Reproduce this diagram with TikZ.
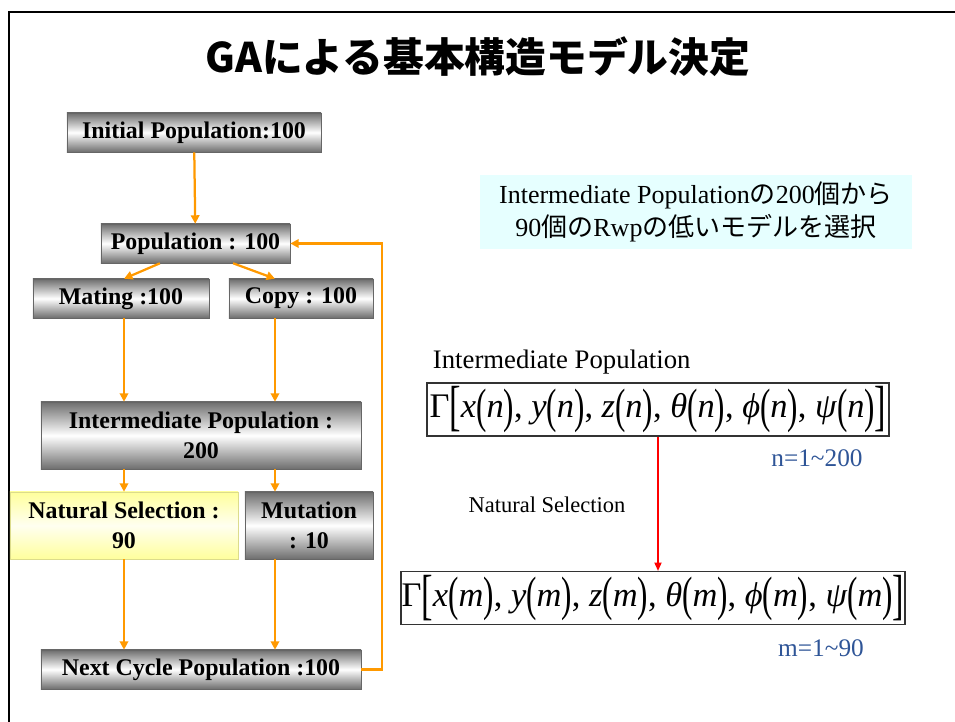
\documentclass[tikz,border=0pt]{standalone}
\usepackage{graphicx}
\usepackage{fontspec}
\setmainfont{Liberation Serif}
\newfontfamily\cjk{Noto Sans CJK JP}
\usepackage{xcolor}
\usepackage{tikz}
\usetikzlibrary{arrows.meta,positioning}

\definecolor{flowline}{HTML}{FF9900}
\definecolor{boxgray}{HTML}{6E6E6E}
\definecolor{selyellow}{HTML}{FFFF9C}
\definecolor{selborder}{HTML}{DCDC8C}
\definecolor{labelblue}{HTML}{2F5597}
\definecolor{notecyan}{HTML}{E6FFFF}

\newcommand{\tallp}[1]{\raisebox{-0.12em}{\scalebox{0.9}[1.4]{#1}}}
\newcommand{\tallb}[1]{\raisebox{-0.2em}{\scalebox{1}[1.6]{#1}}}
\newcommand{\fterm}[2]{\textit{#1}\tallp{(}\textit{#2}\tallp{)}}

\begin{document}
\begin{tikzpicture}[x=0.025cm, y=-0.025cm,
        block/.style={rectangle, draw=black!60, top color=boxgray, bottom color=boxgray, middle color=white, font=\fontsize{17}{21}\selectfont\bfseries, align=center, inner sep=0pt, minimum height=0.975cm},
        tall/.style={minimum height=1.675cm},
        selbox/.style={block, tall, draw=selborder, top color=selyellow, bottom color=selyellow, middle color=selyellow!15},
        formula/.style={rectangle, draw=black!80, line width=0.9pt, inner sep=0pt, minimum height=1.32cm, font=\fontsize{24.5}{28}\selectfont},
        arrow/.style={-{Triangle[length=6pt,width=6pt]}, flowline, line width=1.6pt},
        redarrow/.style={-{Triangle[length=6pt,width=5pt]}, red, line width=1.2pt}
    ]
        \useasboundingbox (0,0) rectangle (955,722);
        \draw[line width=1.5pt] (9,722) -- (9,12) -- (955,12);

        % Title
        \node[font=\cjk\bfseries\fontsize{29}{34}\selectfont] (title) at (478,57) {GAによる基本構造モデル決定};

        % Blocks
        \node[block, minimum width=6.35cm] (init) at (194,132.5) {Initial Population:100};
        \node[block, minimum width=4.725cm] (pop) at (195.5,243.5) {Population : 100};
        \node[block, minimum width=4.4cm] (mating) at (121,298.5) {Mating :100};
        \node[block, minimum width=3.6cm] (copy) at (301,298.5) {Copy : 100};
        \node[block, tall, minimum width=8cm] (inter) at (201,435.5) {Intermediate Population :\\200};
        \node[selbox, minimum width=5.7cm] (natsel) at (124,525.5) {Natural Selection :\\90};
        \node[block, tall, minimum width=3.2cm] (mutation) at (309,525.5) {Mutation\\: 10};
        \node[block, minimum width=8cm] (next) at (201,669.5) {Next Cycle Population :100};

        \coordinate (leftrun) at (124,0);
        \coordinate (rightrun) at (275,0);

        % Arrows
        \draw[arrow] (init) -- (pop);
        \draw[arrow] ([xshift=-0.89cm]pop.south) -- (leftrun |- mating.north);
        \draw[arrow] ([xshift=0.94cm]pop.south) -- (rightrun |- copy.north);
        \draw[arrow] (leftrun |- mating.south) -- (leftrun |- inter.north);
        \draw[arrow] (rightrun |- copy.south) -- (rightrun |- inter.north);
        \draw[arrow] (leftrun |- inter.south) -- (leftrun |- natsel.north);
        \draw[arrow] (rightrun |- inter.south) -- (rightrun |- mutation.north);
        \draw[arrow] (leftrun |- natsel.south) -- (leftrun |- next.north);
        \draw[arrow] (rightrun |- mutation.south) -- (rightrun |- next.north);
        \draw[arrow] (next.east) -- ++(21,0) |- (pop.east);

        % Right side
        \node[fill=notecyan, minimum width=10.8cm, minimum height=1.85cm, align=center, font=\fontsize{18.5}{24}\selectfont] (note) at (696,212)
            {Intermediate Population{\cjk の}200{\cjk 個から}\\90{\cjk 個の}Rwp{\cjk の低いモデルを選択}};
        \node[anchor=west, font=\fontsize{19}{22}\selectfont] (interlabel) at (428,362) {Intermediate Population};
        \node[formula, minimum width=11.55cm] (before) at (658,409.5)
            {Γ\tallb{[}\fterm{x}{n}, \fterm{y}{n}, \fterm{z}{n}, \fterm{θ}{n}, \fterm{ϕ}{n}, \fterm{ψ}{n}\tallb{]}};
        \node[labelblue, font=\fontsize{18}{22}\selectfont] (nrange) at (817,458) {n=1\textasciitilde200};
        \node[font=\fontsize{16}{19}\selectfont] (natlabel) at (547,505) {Natural Selection};
        \node[formula, minimum width=12.6cm] (after) at (653,598)
            {Γ\tallb{[}\fterm{x}{m}, \fterm{y}{m}, \fterm{z}{m}, \fterm{θ}{m}, \fterm{ϕ}{m}, \fterm{ψ}{m}\tallb{]}};
        \node[labelblue, font=\fontsize{18}{22}\selectfont] (mrange) at (821,648) {m=1\textasciitilde90};
        \draw[redarrow] (before.south) -- (before.south |- after.north);

    \end{tikzpicture}
\end{document}
